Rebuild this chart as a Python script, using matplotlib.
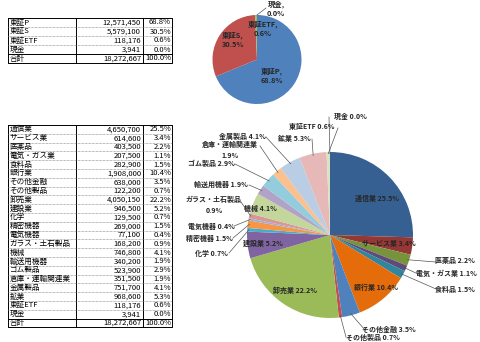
import numpy as np
import matplotlib
matplotlib.use("Agg")
import matplotlib.pyplot as plt

plt.rcParams['font.family'] = ['Noto Sans CJK JP', 'DejaVu Sans']

# market breakdown (top table / small pie)
market_names = ['東証P', '東証S', '東証ETF', '現金']
market_values = [12571450, 5579100, 118176, 3941]
market_colors = ['#4F81BD', '#C0504D', '#9BBB59', '#8064A2']

# sector breakdown (bottom table / large pie)
sector_names = ['通信業', 'サービス業', '医薬品', '電気・ガス業', '食料品', '銀行業',
                'その他金融', 'その他製品', '卸売業', '建設業', '化学', '精密機器',
                '電気機器', 'ガラス・土石製品', '機械', '輸送用機器', 'ゴム製品',
                '倉庫・運輸関連業', '金属製品', '鉱業', '東証ETF', '現金']
sector_values = [4650700, 614600, 403500, 207500, 282900, 1908000,
                 638000, 122200, 4050150, 946500, 129500, 269000,
                 77100, 168200, 746800, 340200, 523900,
                 351500, 751700, 968600, 118176, 3941]
sector_colors = ['#376092', '#953735', '#77933C', '#604A7B', '#31859C', '#E46C0A',
                 '#4F81BD', '#C0504D', '#9BBB59', '#8064A2', '#4BACC6', '#F79646',
                 '#95B3D7', '#D99694', '#C3D69B', '#B3A2C7', '#93CDDD', '#FAC090',
                 '#B9CDE5', '#E6B9B8', '#D7E4BD', '#CCC1DA']

W, H = 480, 342
fig = plt.figure(figsize=(W / 100, H / 100), dpi=100)
fig.patch.set_facecolor('white')

'''
tables
'''
ax = fig.add_axes([0, 0, 1, 1])
ax.set_xlim(0, W)
ax.set_ylim(H, 0)
ax.axis('off')


def draw_table(names, values, top, row_h, left=8, col1=76, col2=143, right=172):
    total = sum(values)
    rows = [(n, v) for n, v in zip(names, values)] + [('合計', total)]
    n = len(rows)
    bottom = top + n * row_h
    lw = 0.7
    ax.plot([left, right, right, left, left], [top, top, bottom, bottom, top],
            color='black', lw=lw)
    ax.plot([col1, col1], [top, bottom], color='black', lw=lw)
    ax.plot([col2, col2], [top, bottom], color='black', lw=lw)
    for i in range(1, n):
        y = top + i * row_h
        if i == n - 1:
            ax.plot([left, right], [y, y], color='black', lw=lw)
        else:
            ax.plot([left, right], [y, y], color='#777777', lw=0.5, ls=(0, (1, 1)))
    for i, (name, v) in enumerate(rows):
        yc = top + (i + 0.5) * row_h
        ax.text(left + 1.5, yc, name, fontsize=5.5, va='center', ha='left')
        ax.text(col2 - 2, yc, f'{v:,}', fontsize=5.5, va='center', ha='right')
        ax.text(right - 1, yc, f'{v / total * 100:.1f}%', fontsize=5.5,
                va='center', ha='right')


draw_table(market_names, market_values, 18, 9)
draw_table(sector_names, sector_values, 125, 8.8)

'''
pies
'''


def pie_axes(cx, cy, r, values, colors):
    pa = fig.add_axes([0, 0, 1, 1])
    pa.patch.set_alpha(0)
    wedges, _ = pa.pie(values, colors=colors, startangle=90, counterclock=False,
                       wedgeprops=dict(linewidth=0))
    pa.set_xlim(-cx / r, (W - cx) / r)
    pa.set_ylim(-(H - cy) / r, cy / r)
    pa.axis('off')

    def px(x, y):
        return (x - cx) / r, (cy - y) / r
    return pa, wedges, px


def wedge_point(w, rr=0.97):
    t = np.deg2rad((w.theta1 + w.theta2) / 2)
    return rr * np.cos(t), rr * np.sin(t)


label_color = '#262626'

# small pie
pa1, w1, px1 = pie_axes(257, 59.5, 44.5, market_values, market_colors)
m_total = sum(market_values)
m_pos = [(272, 76), (233, 40), (263, 29), (276, 9)]
for i, (name, v) in enumerate(zip(market_names, market_values)):
    x, y = px1(*m_pos[i])
    pa1.text(x, y, f'{name},\n{v / m_total * 100:.1f}%', fontsize=5.3,
             fontweight='bold', ha='center', va='center', color=label_color,
             linespacing=1.3)
lx, ly = px1(266, 8)
wx, wy = wedge_point(w1[3], 1.0)
pa1.plot([lx, wx], [ly, wy], color='#555555', lw=0.5)

# large pie
pa2, w2, px2 = pie_axes(330, 235, 83, sector_values, sector_colors)
s_total = sum(sector_values)
# (text centre px, leader start px or None)
s_layout = [
    ((377, 198), None),
    ((389, 243), None),
    ((455, 261), (436, 262)),
    ((446, 273), (418, 274)),
    ((455, 289), (436, 289)),
    ((376, 287), None),
    ((389, 329), (365, 330)),
    ((373, 337), (346, 337)),
    ((295, 290), None),
    ((263, 243), None),
    ((211, 253), (229, 253)),
    ((209, 238), (233, 238)),
    ((211, 226), (234, 226)),
    ((214, 205), (241, 202)),
    ((260, 208), None),
    ((221, 184), (249, 185)),
    ((211, 163), (235, 164)),
    ((230, 150), (260, 146)),
    ((242, 136), (266, 137)),
    ((294, 138), (312, 139)),
    ((312, 127), (338, 128)),
    ((350, 116), (329, 117)),
]
two_line = {'ガラス・土石製品', '倉庫・運輸関連業'}
for i, (name, v) in enumerate(zip(sector_names, sector_values)):
    pct = f'{v / s_total * 100:.1f}%'
    text = f'{name}\n{pct}' if name in two_line else f'{name} {pct}'
    (tx, ty), lead = s_layout[i]
    x, y = px2(tx, ty)
    pa2.text(x, y, text, fontsize=5, fontweight='bold', ha='center', va='center',
             color=label_color, linespacing=1.6)
    if lead is not None:
        lx, ly = px2(*lead)
        wx, wy = wedge_point(w2[i], 0.98)
        pa2.plot([lx, wx], [ly, wy], color='#555555', lw=0.5)

fig.savefig('out.png', dpi=100)
